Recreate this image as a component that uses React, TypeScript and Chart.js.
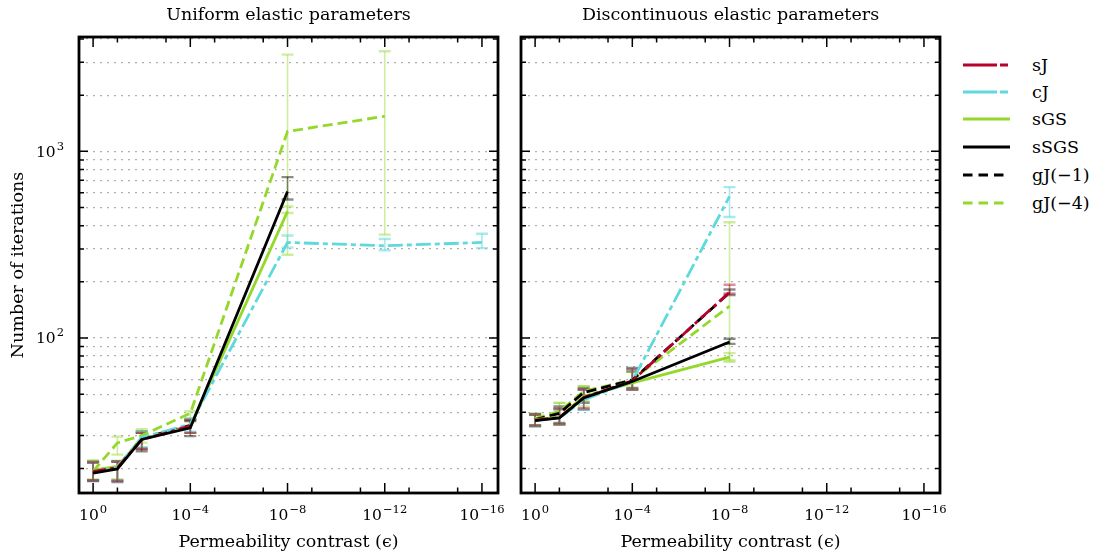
import React, { useEffect, useRef } from "react";
import { Chart, registerables } from "chart.js";

Chart.register(...registerables);

const FONT = "'DejaVu Serif', 'Liberation Serif', serif";

// x = n where epsilon = 10^-n
const epsExponents = [0, 1, 2, 4, 8, 12, 16];
const xMajorTickValues = [0, 4, 8, 12, 16];
const xMajorTickLabels = ["0", "−4", "−8", "−12", "−16"];
const xMinorTickValues = [1, 3, 5, 7, 9, 11, 13, 15];
const yMajorTickValues = [100, 1000];
const yMajorTickLabels = ["2", "3"];
const yMinorTickValues = [20, 30, 40, 50, 60, 70, 80, 90, 200, 300, 400, 500, 600, 700, 800, 900, 2000, 3000, 4000];
const yGridValues = [20, 30, 40, 50, 60, 70, 80, 90, 100, 200, 300, 400, 500, 600, 700, 800, 900, 1000, 2000, 3000, 4000];

const seriesNames = ["sJ", "cJ", "sGS", "sSGS", "gJ(−1)", "gJ(−4)"];
const seriesDrawOrder = [1, 2, 3, 0, 4, 5]; // lower = drawn on top

// ---- Uniform elastic parameters ----
const sJUniform = [19.3, 20.2, 28.5, 33.8];
const sJUniformLo = [17.3, 17.2, 25.5, 31.0];
const sJUniformHi = [21.5, 21.8, 31.0, 36.5];
const cJUniform = [19.2, 20.3, 29.3, 34.5, 325, 312, 325];
const cJUniformLo = [17.3, 17.2, 26.0, 31.5, 305, 295, 303];
const cJUniformHi = [21.5, 21.8, 31.5, 37.0, 354, 339, 362];
const sGSUniform = [19.6, 20.5, 28.8, 33.5, 477];
const sGSUniformLo = [17.5, 17.5, 25.8, 31.0, 467];
const sGSUniformHi = [22.0, 22.0, 31.5, 37.0, 506];
const sSGSUniform = [18.9, 19.9, 28.6, 33.0, 610];
const sSGSUniformLo = [17.1, 16.9, 24.7, 29.8, 552];
const sSGSUniformHi = [21.8, 21.8, 31.6, 36.0, 728];
const gJm1Uniform = [19.3, 20.2, 29.0, 34.0];
const gJm1UniformLo = [17.3, 17.2, 25.5, 31.0];
const gJm1UniformHi = [21.5, 21.8, 31.0, 36.5];
const gJm4Uniform = [19.3, 27.4, 30.0, 39.5, 1279, 1542];
const gJm4UniformLo = [17.3, 23.7, 27.5, 35.5, 279, 358];
const gJm4UniformHi = [22.0, 29.6, 32.5, 40.5, 3297, 3436];

// ---- Discontinuous elastic parameters ----
const sJDisc = [36.3, 37.5, 48.0, 59.0, 176];
const sJDiscLo = [34.0, 34.5, 42.0, 53.0, 173];
const sJDiscHi = [38.8, 42.0, 53.0, 68.0, 193];
const cJDisc = [36.2, 37.3, 46.5, 58.8, 574];
const cJDiscLo = [34.0, 34.5, 41.3, 53.0, 445];
const cJDiscHi = [38.8, 42.0, 52.8, 68.0, 643];
const sGSDisc = [36.5, 37.6, 48.5, 57.5, 79];
const sGSDiscLo = [34.0, 34.3, 43.0, 53.0, 76];
const sGSDiscHi = [38.8, 44.9, 55.1, 66.0, 83];
const sSGSDisc = [36.1, 37.3, 47.7, 58.5, 95.2];
const sSGSDiscLo = [33.6, 34.5, 41.3, 52.8, 93];
const sSGSDiscHi = [38.8, 41.5, 52.8, 69.0, 99];
const gJm1Disc = [36.5, 39.5, 51.0, 59.5, 175];
const gJm1DiscLo = [34.0, 35.0, 45.0, 54.0, 170];
const gJm1DiscHi = [39.0, 43.0, 54.0, 66.0, 182];
const gJm4Disc = [37.0, 40.5, 51.8, 59.8, 148];
const gJm4DiscLo = [34.0, 34.3, 46.0, 53.5, 74.6];
const gJm4DiscHi = [39.5, 44.9, 55.1, 66.0, 417];

const seriesStyles = [
  { color: "#b8002c", err: "rgba(184,0,44,0.45)", dash: [13, 4, 4, 4] },
  { color: "#5fd9dc", err: "rgba(95,217,220,0.55)", dash: [15, 4, 5, 4] },
  { color: "#95d82c", err: "rgba(149,216,44,0.45)", dash: [] as number[] },
  { color: "#000000", err: "rgba(0,0,0,0.45)", dash: [] as number[] },
  { color: "#000000", err: "rgba(0,0,0,0.45)", dash: [10, 5] },
  { color: "#95d82c", err: "rgba(149,216,44,0.45)", dash: [10, 5] },
];

function buildDatasets(vals: number[][], lo: number[][], hi: number[][]) {
  return seriesNames.map((name, i) => ({
    label: name,
    order: seriesDrawOrder[i],
    data: vals[i].map((v, j) => ({ x: epsExponents[j], y: v })),
    errLo: lo[i],
    errHi: hi[i],
    errColor: seriesStyles[i].err,
    borderColor: seriesStyles[i].color,
    backgroundColor: seriesStyles[i].color,
    borderDash: seriesStyles[i].dash,
    borderWidth: 2.8,
    pointRadius: 0,
    tension: 0,
    fill: false,
  }));
}

const errorBarPlugin = {
  id: "errorBars",
  beforeDatasetsDraw(chart: any) {
    const { ctx } = chart;
    const x = chart.scales.x;
    const y = chart.scales.y;
    ctx.save();
    const dss = chart.data.datasets;
    for (let i = dss.length - 1; i >= 0; i--) {
      const ds = dss[i];
      ctx.strokeStyle = ds.errColor;
      for (let j = 0; j < ds.errLo.length; j++) {
        const px = x.getPixelForValue(epsExponents[j]);
        const pl = y.getPixelForValue(ds.errLo[j]);
        const ph = y.getPixelForValue(ds.errHi[j]);
        ctx.lineWidth = 1.6;
        ctx.beginPath();
        ctx.moveTo(px, pl);
        ctx.lineTo(px, ph);
        ctx.stroke();
        ctx.lineWidth = 2.4;
        ctx.beginPath();
        ctx.moveTo(px - 6, pl);
        ctx.lineTo(px + 6, pl);
        ctx.moveTo(px - 6, ph);
        ctx.lineTo(px + 6, ph);
        ctx.stroke();
      }
    }
    ctx.restore();
  },
};

function drawPow(ctx: CanvasRenderingContext2D, sup: string, cx: number, baseY: number, align: string) {
  const baseFont = `15.5px ${FONT}`;
  const supFont = `11.5px ${FONT}`;
  ctx.font = baseFont;
  const bw = ctx.measureText("10").width;
  ctx.font = supFont;
  const sw = ctx.measureText(sup).width;
  const total = bw + 1 + sw;
  const left = align === "center" ? cx - total / 2 : cx - total;
  ctx.textAlign = "left";
  ctx.textBaseline = "alphabetic";
  ctx.fillStyle = "#000";
  ctx.font = baseFont;
  ctx.fillText("10", left, baseY);
  ctx.font = supFont;
  ctx.fillText(sup, left + bw + 1, baseY - 7);
}

function makeFramePlugin(showYLabels: boolean) {
  return {
    id: "frame",
    afterDraw(chart: any) {
      const { ctx, chartArea: a } = chart;
      const x = chart.scales.x;
      const y = chart.scales.y;
      ctx.save();
      ctx.strokeStyle = "#000";
      ctx.lineWidth = 1.5;
      ctx.beginPath();
      const xt = (vals: number[], len: number) => {
        vals.forEach((v) => {
          const px = x.getPixelForValue(v);
          ctx.moveTo(px, a.bottom);
          ctx.lineTo(px, a.bottom - len);
          ctx.moveTo(px, a.top);
          ctx.lineTo(px, a.top + len);
        });
      };
      const yt = (vals: number[], len: number) => {
        vals.forEach((v) => {
          const py = y.getPixelForValue(v);
          ctx.moveTo(a.left, py);
          ctx.lineTo(a.left + len, py);
          ctx.moveTo(a.right, py);
          ctx.lineTo(a.right - len, py);
        });
      };
      xt(xMajorTickValues, 10);
      xt(xMinorTickValues, 5.5);
      yt(yMajorTickValues, 9);
      yt(yMinorTickValues, 5);
      ctx.stroke();
      ctx.lineWidth = 2.8;
      ctx.strokeRect(a.left, a.top, a.right - a.left, a.bottom - a.top);
      xMajorTickValues.forEach((v, i) => {
        drawPow(ctx, xMajorTickLabels[i], x.getPixelForValue(v), a.bottom + 27, "center");
      });
      if (showYLabels) {
        yMajorTickValues.forEach((v, i) => {
          drawPow(ctx, yMajorTickLabels[i], a.left - 15, y.getPixelForValue(v) + 5.5, "right");
        });
      }
      ctx.restore();
    },
  };
}

function makeConfig(title: string, datasets: any[], left: boolean): any {
  return {
    type: "line",
    data: { datasets },
    plugins: [errorBarPlugin, makeFramePlugin(left)],
    options: {
      responsive: false,
      animation: false,
      devicePixelRatio: 1,
      layout: { padding: { left: 0, right: left ? 12 : 10, top: 0, bottom: 0 } },
      plugins: {
        legend: { display: false },
        tooltip: { enabled: false },
        title: {
          display: true,
          fullSize: false,
          text: title,
          color: "#000",
          font: { family: FONT, size: 17.5, weight: "normal" },
          padding: { top: 5, bottom: 11 },
        },
      },
      scales: {
        x: {
          type: "linear",
          min: -0.58,
          max: 16.66,
          afterBuildTicks: (s: any) => {
            s.ticks = xMajorTickValues.map((v) => ({ value: v }));
          },
          afterFit: (s: any) => {
            s.height = 61;
          },
          grid: { display: false, drawTicks: false },
          border: { display: false },
          ticks: { display: false },
          title: {
            display: true,
            text: "Permeability contrast (ϵ)",
            color: "#000",
            font: { family: FONT, size: 17.5, weight: "normal" },
            padding: { top: 0, bottom: 1 },
          },
        },
        y: {
          type: "logarithmic",
          min: 14.77,
          max: 4100,
          afterBuildTicks: (s: any) => {
            s.ticks = yGridValues.map((v) => ({ value: v }));
          },
          afterFit: (s: any) => {
            s.width = left ? 79 : 11;
          },
          grid: { display: true, drawTicks: false, color: "#b0b0b0", lineWidth: 1.2 },
          border: { display: false, dash: [2, 5] },
          ticks: { display: false },
          title: {
            display: left,
            text: "Number of iterations",
            color: "#000",
            font: { family: FONT, size: 17.5, weight: "normal" },
            padding: { top: 7.5, bottom: 0 },
          },
        },
      },
    },
  };
}

const legendRowsY = [65, 92, 119, 147, 175, 203];
const legendDash = ["34 3 8 100", "34 3 8 100", "", "", "9.5 6", "9.5 6"];

export default function App() {
  const leftRef = useRef<HTMLCanvasElement | null>(null);
  const rightRef = useRef<HTMLCanvasElement | null>(null);

  useEffect(() => {
    const uVals = [sJUniform, cJUniform, sGSUniform, sSGSUniform, gJm1Uniform, gJm4Uniform];
    const uLo = [sJUniformLo, cJUniformLo, sGSUniformLo, sSGSUniformLo, gJm1UniformLo, gJm4UniformLo];
    const uHi = [sJUniformHi, cJUniformHi, sGSUniformHi, sSGSUniformHi, gJm1UniformHi, gJm4UniformHi];
    const dVals = [sJDisc, cJDisc, sGSDisc, sSGSDisc, gJm1Disc, gJm4Disc];
    const dLo = [sJDiscLo, cJDiscLo, sGSDiscLo, sSGSDiscLo, gJm1DiscLo, gJm4DiscLo];
    const dHi = [sJDiscHi, cJDiscHi, sGSDiscHi, sSGSDiscHi, gJm1DiscHi, gJm4DiscHi];
    const c1 = new Chart(leftRef.current as HTMLCanvasElement, makeConfig("Uniform elastic parameters", buildDatasets(uVals, uLo, uHi), true));
    const c2 = new Chart(rightRef.current as HTMLCanvasElement, makeConfig("Discontinuous elastic parameters", buildDatasets(dVals, dLo, dHi), false));
    return () => {
      c1.destroy();
      c2.destroy();
    };
  }, []);

  return (
    <div style={{ position: "absolute", left: 0, top: 0, width: 1096, height: 554, background: "#fff", overflow: "hidden" }}>
      <canvas ref={leftRef} width={510} height={554} style={{ position: "absolute", left: 0, top: 0, width: 510, height: 554 }} />
      <canvas ref={rightRef} width={440} height={554} style={{ position: "absolute", left: 510, top: 0, width: 440, height: 554 }} />
      {seriesNames.map((name, i) => (
        <div key={name} style={{ position: "absolute", left: 960, top: legendRowsY[i] - 12, height: 24, width: 136, display: "flex", alignItems: "center" }}>
          <svg width={50} height={10} style={{ marginLeft: 3 }}>
            <line
              x1={0}
              y1={5}
              x2={seriesStyles[i].dash.length ? (i < 2 ? 45 : 41) : 47}
              y2={5}
              stroke={seriesStyles[i].color}
              strokeWidth={2.8}
              strokeDasharray={legendDash[i] || undefined}
            />
          </svg>
          <span style={{ marginLeft: 19, fontFamily: FONT, fontSize: 17.5, color: "#000", lineHeight: "24px", whiteSpace: "nowrap" }}>{name}</span>
        </div>
      ))}
    </div>
  );
}
